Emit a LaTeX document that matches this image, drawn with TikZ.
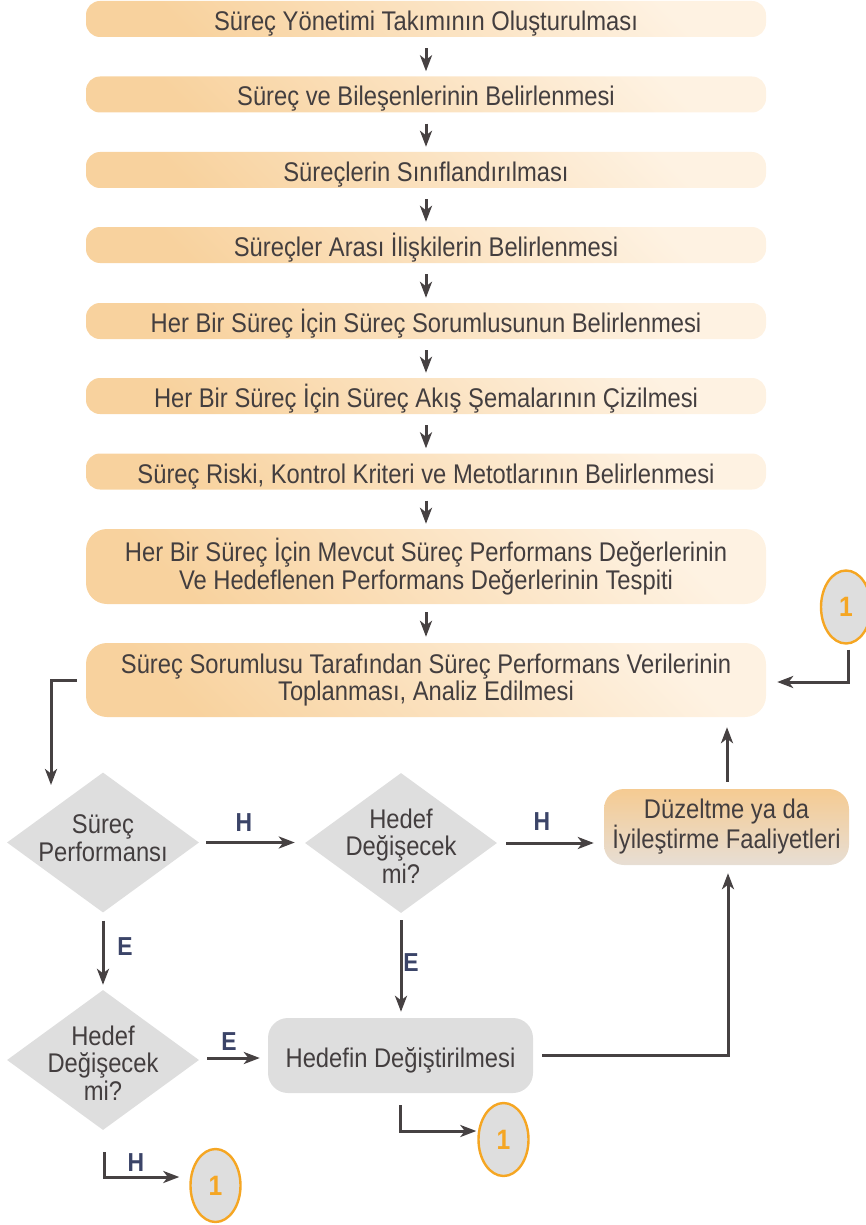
\documentclass[tikz,border=0pt]{standalone}
\usepackage{fontspec}
\setmainfont[FakeStretch=0.88]{Liberation Sans}
\usetikzlibrary{shapes.geometric,arrows.meta,calc}

\definecolor{txt}{HTML}{433E3F}
\definecolor{wire}{HTML}{464142}
\definecolor{navy}{HTML}{3B4468}
\definecolor{ring}{HTML}{F5A623}
\definecolor{greyfill}{HTML}{DEDEDE}
\definecolor{peachlight}{HTML}{FEF2E2}
\definecolor{peachdark}{HTML}{F8D29E}
\definecolor{fixtop}{HTML}{F5CB92}
\definecolor{fixbottom}{HTML}{E7DED4}

\begin{document}
\begin{tikzpicture}[x=1pt,y=-1pt,
  txtfont/.style={font=\fontsize{27}{27.5}\selectfont},
  basebox/.style={txtfont, text=txt, align=center, inner sep=0pt,
    minimum width=680pt, rounded corners=14pt,
    top color=peachlight, bottom color=peachdark, shading angle=-45},
  oneline/.style={text height=23pt, text depth=0pt},
  stepbox/.style={basebox, minimum height=36pt, oneline},
  bigbox/.style={basebox, rounded corners=21pt},
  dia/.style={shape=diamond, fill=greyfill, inner sep=0pt,
    minimum width=192pt, minimum height=140pt},
  dtext/.style={txtfont, text=txt, align=center, inner sep=0pt},
  lab/.style={font=\bfseries\fontsize{26}{26}\selectfont, text=navy, inner sep=0pt},
  circ/.style={shape=ellipse, draw=ring, line width=2.4pt, fill=greyfill,
    minimum width=50pt, minimum height=73pt, inner sep=0pt,
    text=ring, font=\bfseries\fontsize{28}{28}\selectfont},
  arr/.style={draw=wire, line width=3pt,
    -{Stealth[length=16pt,width=12pt,inset=4.5pt]}},
  link/.style={arr, shorten <=11pt, shorten >=5pt}
]
\useasboundingbox (0,0) rectangle (866,1225);

% main sequence of steps
\node[stepbox] (b1) at (426,19)    {Süreç Yönetimi Takımının Oluşturulması};
\node[stepbox] (b2) at (426,94.5)  {Süreç ve Bileşenlerinin Belirlenmesi};
\node[stepbox] (b3) at (426,170)   {Süreçlerin Sınıflandırılması};
\node[stepbox] (b4) at (426,245)   {Süreçler Arası İlişkilerin Belirlenmesi};
\node[stepbox] (b5) at (426,321)   {Her Bir Süreç İçin Süreç Sorumlusunun Belirlenmesi};
\node[stepbox] (b6) at (426,396)   {Her Bir Süreç İçin Süreç Akış Şemalarının Çizilmesi};
\node[stepbox] (b7) at (426,471.5) {Süreç Riski, Kontrol Kriteri ve Metotlarının Belirlenmesi};
\node[bigbox, minimum height=75pt] (b8) at (426,566.5)
  {Her Bir Süreç İçin Mevcut Süreç Performans Değerlerinin\\Ve Hedeflenen Performans Değerlerinin Tespiti};
\node[bigbox, minimum height=74pt] (b9) at (426,680)
  {Süreç Sorumlusu Tarafından Süreç Performans Verilerinin\\Toplanması, Analiz Edilmesi};

\foreach \a/\b in {b1/b2,b2/b3,b3/b4,b4/b5,b5/b6,b6/b7,b7/b8}
  \draw[link] (\a.south) -- (\b.north);
\draw[arr, shorten <=8pt, shorten >=6pt] (b8.south) -- (b9.north);

% decisions
\node[dia] (d1) at (103,842.5) {};
\node[dtext] (d1t) at (103,838) {Süreç\\Performansı};
\node[dia] (d2) at (401,843) {};
\node[dtext] (d2t) at (401,846) {Hedef\\Değişecek\\mi?};
\node[dia] (d3) at (103,1060) {};
\node[dtext] (d3t) at (103,1063) {Hedef\\Değişecek\\mi?};

% action boxes
\node[txtfont, text=txt, align=center, inner sep=0pt, minimum width=245pt,
  minimum height=76pt, rounded corners=20pt, top color=fixtop,
  bottom color=fixbottom] (fix) at (726.5,827) {Düzeltme ya da\\İyileştirme Faaliyetleri};
\node[txtfont, text=txt, align=center, inner sep=0pt, minimum width=265pt,
  minimum height=75pt, rounded corners=20pt, fill=greyfill, oneline]
  (chg) at (400.5,1055.5) {Hedefin Değiştirilmesi};

% connector circles
\node[circ] (c1) at (846,607) {1};
\node[circ] (c2) at (503.5,1139.5) {1};
\node[circ] (c3) at (215.5,1185.5) {1};

% connectors
\coordinate (d1in) at (51,785);
\draw[arr] ([xshift=-9pt]b9.west) -| (d1in);

\draw[arr, shorten <=7pt, shorten >=10pt] (d1.east) -- (d1.east -| d2.west);
\node[lab] (h1) at (244,823) {H};
\draw[arr, shorten <=9pt, shorten >=10pt] (d2.east) -- (fix.west |- d2.east);
\node[lab] (h2) at (542,822) {H};

\draw[arr, shorten <=8pt, shorten >=5pt] (d1.south) -- (d3.north);
\node[lab] (e1) at (125,947) {E};
\draw[arr, shorten <=7pt, shorten >=6pt] (d2.south) -- (chg.north -| d2.south);
\node[lab] (e2) at (411,963) {E};
\draw[arr, shorten <=8pt, shorten >=8pt] ($(d3.east)+(0,-2)$) -- ($(d3.east -| chg.west)+(0,-2)$);
\node[lab] (e3) at (229,1042) {E};

\draw[arr] ([xshift=9pt]chg.east) -| ([xshift=1.5pt,yshift=-8pt]fix.south);
\draw[arr, shorten <=7pt, shorten >=10pt] ([xshift=0.5pt]fix.north) -- ([xshift=0.5pt]fix.north |- b9.south);

\draw[arr] ([xshift=2pt,yshift=-5pt]c1.south) |- ([xshift=11pt,yshift=-2pt]b9.east);
\draw[arr] ([yshift=-12pt]chg.south) |- ([xshift=-1pt,yshift=8.5pt]c2.west);
\draw[arr] ([xshift=1pt,yshift=-22pt]d3.south) |- ([xshift=-10pt,yshift=8.5pt]c3.west);
\node[lab] (h3) at (136,1163) {H};
\end{tikzpicture}
\end{document}
